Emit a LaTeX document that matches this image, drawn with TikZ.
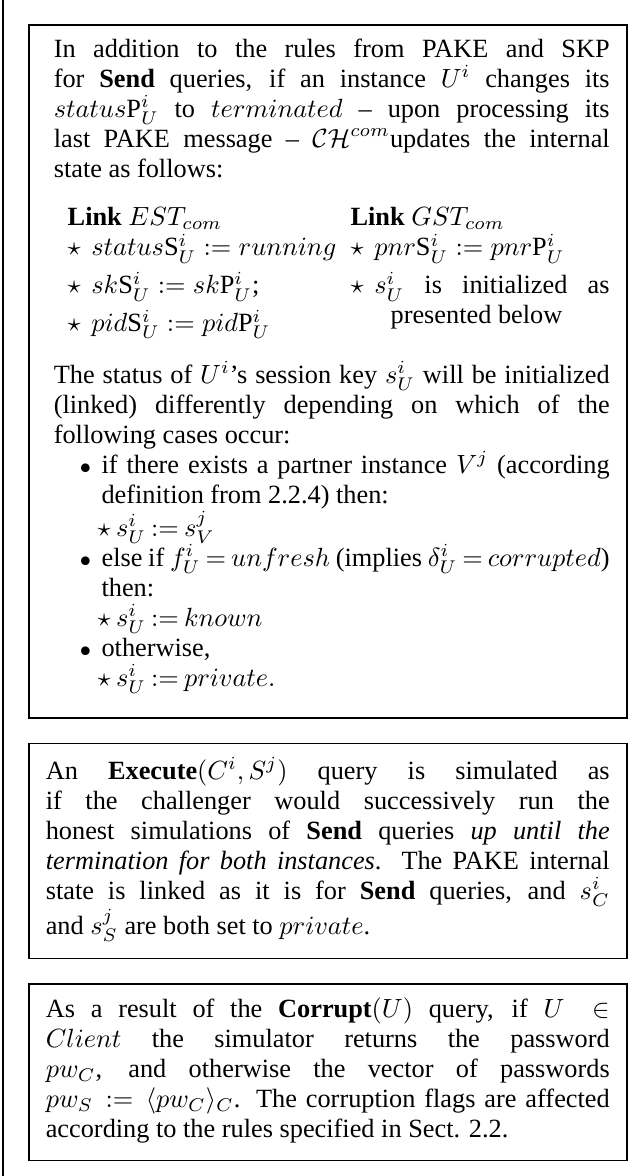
\documentclass[tikz,border=0pt]{standalone}
\usepackage{fontspec}
\setmainfont{Liberation Serif}
\usepackage{amsmath}
\usepackage{amssymb}
\usetikzlibrary{positioning}

% markers used inside the query boxes
\newcommand{\casebul}{\noindent\llap{{\footnotesize$\bullet$}\hspace{4pt}}}
\newcommand{\st}[1][2pt]{$\star$\kern#1}

\begin{document}
\begin{tikzpicture}[x=0.38pt, y=-0.38pt,
    query/.style={rectangle, draw, line width=0.6pt, text width=214.3pt,
      inner xsep=6.46pt, inner ysep=5.4pt, align=justify,
      font=\fontsize{10pt}{11.4pt}\selectfont,
      execute at end node={\endgraf\vspace*{1pt}}},
    node distance=9pt
    ]
  \useasboundingbox (0,0) rectangle (644,1176);
  \coordinate (ftop) at (3,0);
  \coordinate (fbot) at (3,1176);
  \draw[line width=0.6pt] (ftop) -- (fbot);

  \node[query, anchor=north west] (send) at (28,24) {%
    \leftskip=3.04pt
    In addition to the rules from PAKE and SKP\linebreak
    for \textbf{Send} queries, if an instance $U^i$ changes its\linebreak
    $status\mathrm{P}^i_U$ to $terminated$ -- upon processing its\linebreak
    last PAKE message -- $\mathcal{CH}^{com}$updates the internal\linebreak
    state as follows:\par
    \vspace{7pt}
    \hspace*{5.3pt}\begin{minipage}[t]{107.5pt}
      \textbf{Link} $EST_{com}$\par
      \st[4pt] $status\mathrm{S}^i_U := running$\par\vspace{3pt}
      \st[4pt] $sk\mathrm{S}^i_U := sk\mathrm{P}^i_U$;\par\vspace{3pt}
      \st[4pt] $pid\mathrm{S}^i_U := pid\mathrm{P}^i_U$
    \end{minipage}%
    \begin{minipage}[t]{98.4pt}
      \textbf{Link} $GST_{com}$\par
      \st[4pt] $pnr\mathrm{S}^i_U := pnr\mathrm{P}^i_U$\par\vspace{3pt}
      \st[4pt] $s^i_U$ is initialized as\linebreak
      \hspace*{15.2pt}presented below
    \end{minipage}\par
    \vspace{7.5pt}
    The status of $U^i$'s session key $s^i_U$ will be initialized\linebreak
    (linked) differently depending on which of the\linebreak
    following cases occur:\par
    {\leftskip=21.2pt \thickmuskip=3.5mu plus 3mu
    \casebul if there exists a partner instance $V^j$ (according\linebreak
    definition from 2.2.4) then:\par
    \hspace*{-1.5pt}\st $s^i_U := s^j_V$\par
    \casebul else if $f^i_U = unfresh$ (implies $\delta^i_U = corrupted$)\linebreak
    then:\par
    \hspace*{-1.5pt}\st $s^i_U := known$\par
    \casebul otherwise,\par
    \hspace*{-1.5pt}\st $s^i_U := private.$\par}
    \vspace{3pt}
  };

  \node[query, below=of send] (exec) {%
    \leftskip=3.04pt
    An \textbf{Execute}$(C^i, S^j)$ query is simulated as\linebreak
    if the challenger would successively run the\linebreak
    honest simulations of \textbf{Send} queries \emph{up until the\linebreak
    termination for both instances}. The PAKE internal\linebreak
    state is linked as it is for \textbf{Send} queries, and $s^i_C$\linebreak
    and $s^j_S$ are both set to $private$.
  };

  \node[query, below=of exec] (corrupt) {%
    \leftskip=3.04pt
    As a result of the \textbf{Corrupt}$(U)$ query, if $U \in$\linebreak
    $Client$ the simulator returns the password\linebreak
    $pw_C$, and otherwise the vector of passwords\linebreak
    $pw_S := \langle pw_C\rangle_C$. The corruption flags are affected\linebreak
    according to the rules specified in Sect. 2.2.
  };
\end{tikzpicture}
\end{document}
